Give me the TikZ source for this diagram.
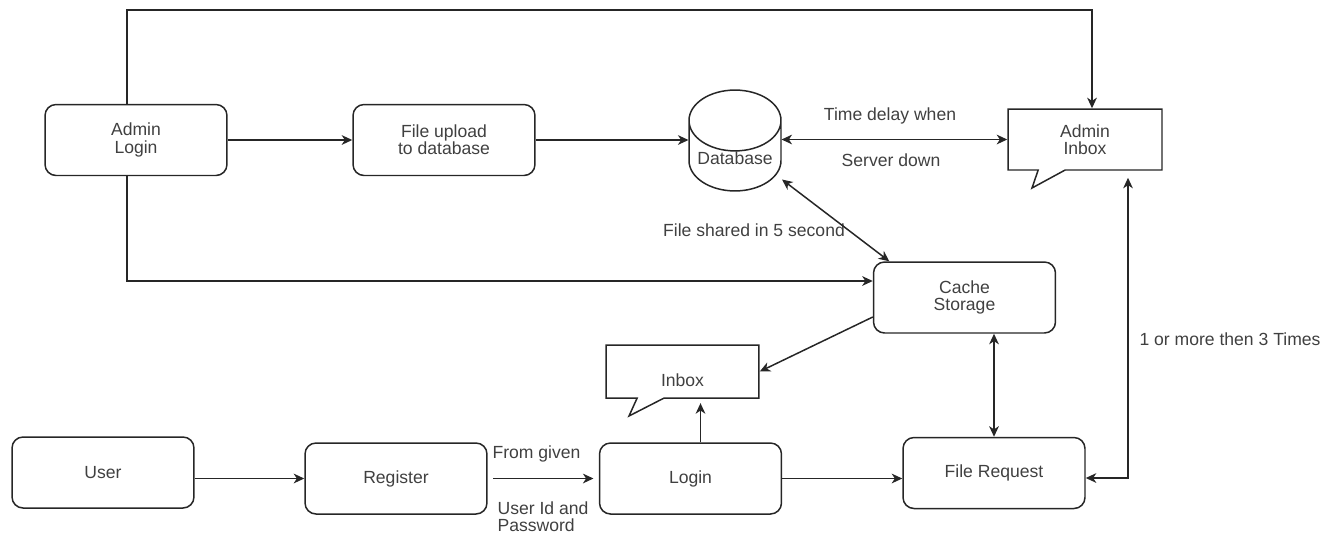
\documentclass[tikz,border=0pt]{standalone}
\usepackage{fontspec}
\setmainfont{Liberation Sans}
\usetikzlibrary{arrows.meta,shapes.geometric,shapes.callouts,calc}

\begin{document}
\begin{tikzpicture}[x=0.02cm, y=-0.02cm, line width=0.85pt, draw=black!85, text=black!75,
	font=\fontsize{10}{9.8}\selectfont,
	box/.style={draw, rounded corners=0.22cm, minimum width=3.64cm, minimum height=1.42cm, align=center},
	bubble/.style={draw, rectangle callout, align=center, callout pointer width=0.54cm},
	arr/.style={-{Stealth[length=6pt,width=5.5pt,inset=1.8pt]}},
	darr/.style={{Stealth[length=6pt,width=5.5pt,inset=1.8pt]}-{Stealth[length=6pt,width=5.5pt,inset=1.8pt]}}]
	\useasboundingbox (0,0) rectangle (1335,535);

	% rounded boxes
	\foreach \name/\x/\y/\txt in {adminlogin/136/140/{Admin\\Login}, fileupload/444/140/{File upload\\to database},
		cache/964.5/297.5/{Cache\\Storage}, user/103/472.5/User, register/396/478.5/Register,
		login/690.5/478.5/Login, filerequest/994/473/File Request}{
		\node[box] (\name) at (\x,\y) {\txt};
	}

	% database and inboxes
	\node[draw, cylinder, shape border rotate=90, aspect=0.7, inner ysep=0pt, minimum width=1.84cm, minimum height=1.0cm, text depth=0.22cm, anchor=shape center] (database) at (735,140.5) {Database};
	\node[bubble, minimum width=3.08cm, minimum height=1.22cm, callout absolute pointer={(1032,188)}] (admininbox) at (1085,139.5) {Admin\\Inbox};
	\node[bubble, minimum width=3.06cm, minimum height=1.06cm, text height=0.6cm, callout absolute pointer={(629,416)}] (inbox) at (682.5,371.5) {Inbox};

	% labels
	\node (timedelay) at (890,116) {Time delay when};
	\node (serverdown) at (891,160) {Server down};
	\node (shared) at (754,230) {File shared in 5 second};
	\node (times) at (1230,339) {1 or more then 3 Times};
	\node[anchor=west] (fromgiven) at (486,454) {From given};
	\node[anchor=west, align=left] (userid) at (491,517) {User Id and\\Password};

	% admin side
	\draw[arr] (adminlogin) -- (fileupload);
	\draw[arr] (fileupload.east) -- (fileupload.east -| database.west);
	\draw[darr] (admininbox.west -| database.east) -- (admininbox.west);

	\coordinate (topl) at (127,10);
	\coordinate (topr) at (1092,10);
	\draw[arr] (adminlogin.north -| topl) -- (topl) -- (topr) -- (topr |- admininbox.north);

	\coordinate (botl) at (127,281);
	\draw[arr] (adminlogin.south -| botl) -- (botl) -- (botl -| cache.west);

	\draw[darr] ($(database.shape center)+(47,39)$) -- ($(cache.north west)!0.09!(cache.north east)$);
	\draw[arr] (cache.192) -- (inbox.east);
	\draw[darr] (cache.south -| filerequest.north) -- (filerequest.north);

	% user side
	\draw[arr] (register.west -| user.east) -- (register.west);
	\draw[arr, shorten <=3pt, shorten >=3pt] (register) -- (login);
	\draw[arr, shorten >=2.5pt] ([xshift=0.2cm]login.north) -- ([xshift=0.2cm]login.north |- inbox.south);
	\draw[arr] (login.east) -- (login.east -| filerequest.west);

	\coordinate (sidex) at (1128,478);
	\draw[darr, shorten >=4pt] (filerequest.east |- sidex) -- (sidex) -- (sidex |- admininbox.south);
\end{tikzpicture}
\end{document}
